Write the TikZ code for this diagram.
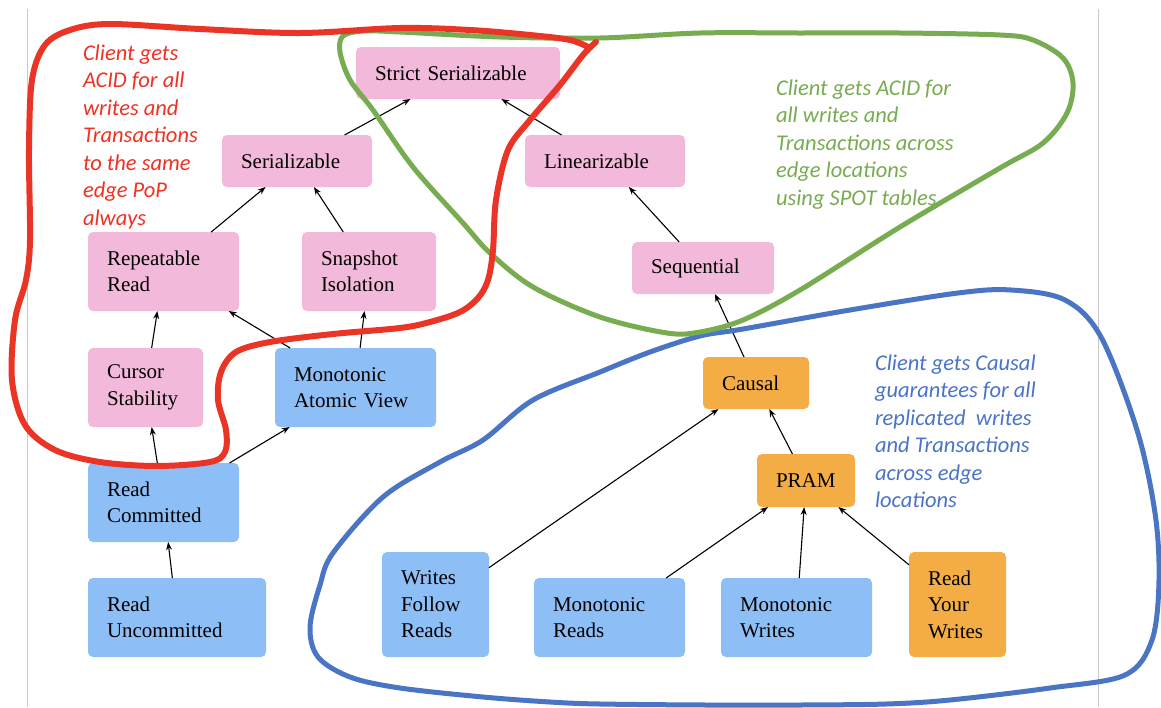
\documentclass[tikz,border=0pt]{standalone}
\usepackage{fontspec}
\setmainfont{Liberation Serif}
\newfontfamily\notefont{Carlito}
\usetikzlibrary{arrows.meta}
\definecolor{boxpink}{RGB}{242,185,218}
\definecolor{boxblue}{RGB}{142,190,246}
\definecolor{boxorange}{RGB}{244,173,68}
\definecolor{redline}{RGB}{234,52,38}
\definecolor{greenline}{RGB}{120,172,80}
\definecolor{blueline}{RGB}{74,116,196}
\definecolor{redtext}{RGB}{238,50,36}
\definecolor{greentext}{RGB}{120,172,80}
\definecolor{bluetext}{RGB}{74,116,200}
\definecolor{framegray}{RGB}{200,200,200}
\begin{document}
\begin{tikzpicture}[x=1pt,y=-1pt,
  box/.style={rounded corners=5pt, inner xsep=19pt, inner ysep=0pt, outer sep=0pt,
    align=left, anchor=north west, font=\fontsize{21}{26.5}\selectfont},
  pinkbox/.style={box, fill=boxpink},
  bluebox/.style={box, fill=boxblue},
  orangebox/.style={box, fill=boxorange},
  arr/.style={-{Stealth[length=8pt,width=6pt]}, line width=1.1pt, black},
  note/.style={anchor=base west, inner sep=0pt, outer sep=0pt,
    font=\notefont\itshape\fontsize{22.5}{27.5}\selectfont},
  blob/.style={line width=5pt, line cap=round, line join=round}]
\useasboundingbox (0,0) rectangle (1161,707);
\fill[white] (0,0) rectangle (1161,707);
% frame lines
\draw[framegray, line width=0.8pt] (27,9) -- (27,707);
\draw[framegray, line width=0.8pt] (1098,9) -- (1098,707);
% boxes
\node[pinkbox, text width=166pt, minimum height=52pt] (strict) at (356,47) {Strict Serializable};
\node[pinkbox, text width=112pt, minimum height=52pt] (serial) at (222,135) {Serializable};
\node[pinkbox, text width=122pt, minimum height=52pt] (linear) at (525,135) {Linearizable};
\node[pinkbox, text width=104pt, minimum height=52pt] (seq) at (632,242) {Sequential};
\node[pinkbox, text width=113pt, minimum height=79pt] (rr) at (88,232) {Repeatable\\Read};
\node[pinkbox, text width=96pt, minimum height=79pt] (si) at (302,232) {Snapshot\\Isolation};
\node[pinkbox, text width=77pt, minimum height=79pt] (cs) at (88,348) {Cursor\\Stability};
\node[bluebox, text width=123pt, minimum height=79pt] (mav) at (275,348) {Monotonic\\Atomic View};
\node[bluebox, text width=113pt, minimum height=79pt] (rc) at (88,463) {Read\\Committed};
\node[bluebox, text width=140pt, minimum height=79pt] (ru) at (88,578) {Read\\Uncommitted};
\node[orangebox, text width=68pt, minimum height=52pt] (causal) at (703,357) {Causal};
\node[orangebox, text width=60pt, minimum height=53pt] (pram) at (757,454) {PRAM};
\node[bluebox, text width=69pt, minimum height=105pt] (wfr) at (382,552) {Writes\\Follow\\Reads};
\node[bluebox, text width=113pt, minimum height=79pt] (mr) at (534,578) {Monotonic\\Reads};
\node[bluebox, text width=113pt, minimum height=79pt] (mw) at (721,578) {Monotonic\\Writes};
\node[orangebox, text width=59pt, minimum height=105pt] (ryw) at (909,552) {Read\\Your\\Writes};
% arrows
\draw[arr] (serial) -- (strict);
\draw[arr] (linear) -- (strict);
\draw[arr] (rr) -- (serial);
\draw[arr] (si) -- (serial);
\draw[arr] (seq) -- (linear);
\draw[arr] (causal) -- (seq);
\draw[arr] (cs) -- (rr);
\draw[arr] (mav) -- (rr);
\draw[arr] (mav) -- (si);
\draw[arr] (rc) -- (cs);
\draw[arr] (rc) -- (mav);
\draw[arr] (ru) -- (rc);
\draw[arr] (wfr) -- (causal);
\draw[arr] (pram) -- (causal);
\draw[arr] (mr) -- (pram);
\draw[arr] (mw) -- (pram);
\draw[arr] (ryw) -- (pram);
% freehand regions
\draw[blob, blueline] plot[smooth cycle, tension=0.55] coordinates {
  (533,400) (600,372) (650,352) (700,336) (743,329) (850,310) (958,293) (1011,290)
  (1065,300) (1101,337) (1137,430) (1155,513) (1159,580) (1152,640) (1125,675)
  (1050,688) (950,700) (886,704) (800,705) (707,705) (600,704) (550,702) (483,697)
  (400,688) (350,677) (318,657) (310,627) (320,585) (333,553) (383,497) (440,462)
  (483,440)};
\draw[blob, greenline] plot[smooth cycle, tension=0.55] coordinates {
  (343,36) (340,52) (350,80) (373,110) (413,167) (463,223) (490,253) (533,287)
  (600,317) (667,333) (700,332) (743,320) (800,290) (900,227) (1000,168)
  (1043,143) (1067,113) (1073,83) (1063,58) (1033,40) (1000,35) (900,33) (800,33)
  (700,33) (600,38) (500,37) (400,32) (363,31)};
\draw[blob, redline, line width=6pt] plot[smooth, tension=0.55] coordinates {
  (596,42) (583,55) (560,85) (530,120) (508,150) (496,200) (493,250) (488,280)
  (478,298) (460,312) (430,322) (400,328) (333,334) (270,342) (236,352) (221,372)
  (218,400) (226,430) (225,452) (210,462) (157,466) (100,462) (55,450) (25,425)
  (12,380) (15,320) (26,280) (30,240) (29,150) (32,80) (45,45) (70,30) (110,24)
  (200,29) (300,33) (400,28) (470,30) (530,35) (570,40) (590,48)};
% notes
\node[note, text=redtext] (rednote) at (83,60) {\parbox[t]{200pt}{Client gets\\ACID for all\\writes and\\Transactions\\to the same\\edge PoP\\always}};
\node[note, text=greentext] (greennote) at (776,95) {\parbox[t]{300pt}{Client gets ACID for\\all writes and\\Transactions across\\edge locations\\using SPOT tables}};
\node[note, text=bluetext] (bluenote) at (875,370) {\parbox[t]{300pt}{Client gets Causal\\guarantees for all\\replicated~ writes\\and Transactions\\across edge\\locations}};
\end{tikzpicture}
\end{document}
